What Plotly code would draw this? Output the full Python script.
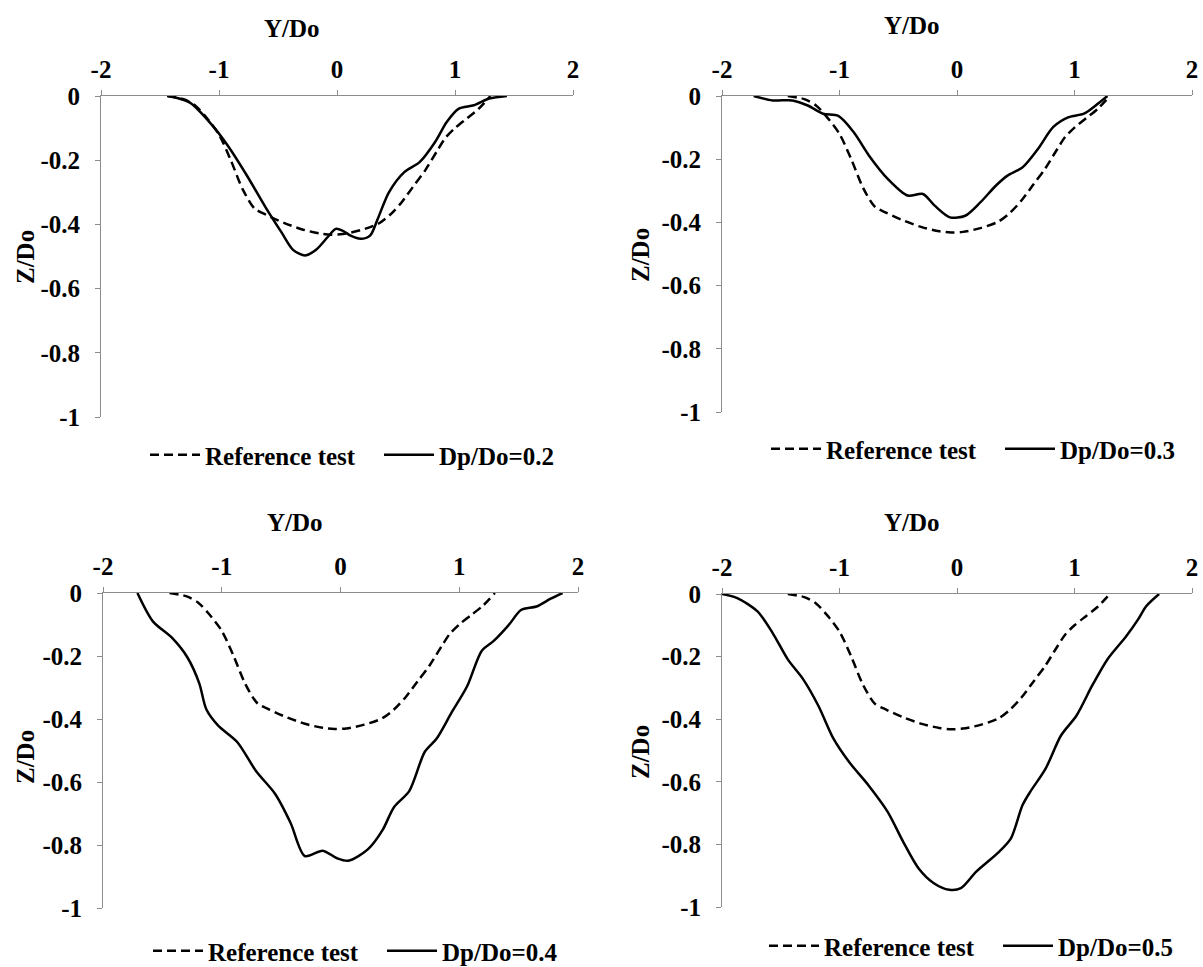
import plotly.graph_objects as go

# ---------------- data ----------------
ref_y = [-1.44, -1.3, -1.2, -1.1, -1.0, -0.9, -0.8, -0.7, -0.6, -0.45, -0.3, -0.15, -0.05,
         0.05, 0.2, 0.35, 0.45, 0.55, 0.65, 0.75, 0.85, 0.92, 1.0, 1.1, 1.2, 1.3]
ref_z = [0, -0.01, -0.03, -0.07, -0.12, -0.2, -0.29, -0.35, -0.37, -0.395, -0.415, -0.428, -0.432,
         -0.43, -0.418, -0.398, -0.37, -0.33, -0.28, -0.23, -0.17, -0.13, -0.1, -0.07, -0.04, 0]

d02_y = [-1.43, -1.25, -1.06, -0.925, -0.76, -0.6, -0.47, -0.37, -0.27, -0.18, -0.08, -0.01, 0.05,
         0.12, 0.2, 0.28, 0.345, 0.44, 0.57, 0.7, 0.83, 0.93, 1.03, 1.16, 1.29, 1.44]
d02_z = [0, -0.02, -0.09, -0.155, -0.25, -0.35, -0.425, -0.48, -0.497, -0.48, -0.44, -0.414, -0.42,
         -0.436, -0.445, -0.435, -0.383, -0.3, -0.237, -0.206, -0.144, -0.081, -0.04, -0.029, -0.008, 0]

d03_y = [-1.73, -1.57, -1.4, -1.27, -1.14, -1.01, -0.88, -0.75, -0.59, -0.42, -0.29, -0.19, -0.06,
         0.07, 0.2, 0.33, 0.43, 0.56, 0.69, 0.82, 0.95, 1.08, 1.18, 1.28]
d03_z = [0, -0.014, -0.014, -0.03, -0.056, -0.063, -0.114, -0.188, -0.262, -0.315, -0.31, -0.347, -0.384,
         -0.379, -0.336, -0.284, -0.252, -0.225, -0.167, -0.098, -0.067, -0.056, -0.03, 0]

d04_y = [-1.71, -1.58, -1.42, -1.29, -1.19, -1.13, -1.03, -0.87, -0.71, -0.55, -0.42, -0.3, -0.15,
         -0.03, 0.065, 0.23, 0.355, 0.45, 0.58, 0.71, 0.81, 0.935, 1.065, 1.19, 1.29, 1.42, 1.52,
         1.65, 1.77, 1.87]
d04_z = [0, -0.09, -0.142, -0.204, -0.286, -0.369, -0.421, -0.473, -0.566, -0.638, -0.73, -0.835, -0.818,
         -0.842, -0.85, -0.814, -0.752, -0.68, -0.628, -0.504, -0.462, -0.38, -0.297, -0.183, -0.152, -0.1,
         -0.054, -0.043, -0.018, 0]

d05_y = [-2.0, -1.87, -1.7, -1.57, -1.44, -1.31, -1.18, -1.05, -0.918, -0.754, -0.59, -0.459, -0.328,
         -0.197, -0.066, 0.033, 0.164, 0.36, 0.459, 0.557, 0.623, 0.754, 0.885, 1.016, 1.15, 1.28,
         1.44, 1.54, 1.61, 1.72]
d05_z = [0, -0.013, -0.055, -0.124, -0.209, -0.272, -0.357, -0.463, -0.537, -0.611, -0.696, -0.791, -0.876,
         -0.924, -0.945, -0.94, -0.887, -0.823, -0.781, -0.675, -0.632, -0.558, -0.452, -0.389, -0.293,
         -0.209, -0.135, -0.082, -0.039, 0]

series_names = ["Dp/Do=0.2", "Dp/Do=0.3", "Dp/Do=0.4", "Dp/Do=0.5"]
series_y = [d02_y, d03_y, d04_y, d05_y]
series_z = [d02_z, d03_z, d04_z, d05_z]
ref_name = "Reference test"

x_tickvals = [-2, -1, 0, 1, 2]
x_ticktext = ["-2", "-1", "0", "1", "2"]
y_tickvals = [0, -0.2, -0.4, -0.6, -0.8, -1]
y_ticktext = ["0", "-0.2", "-0.4", "-0.6", "-0.8", "-1"]

# ---------------- layout geometry (pixels) ----------------
W, H = 1203, 967
panels = [
    dict(x0=101, x1=573, y0=96, y1=417, ytitle=(25, 257), xtitle_y=28, leg=(145, 455)),
    dict(x0=722, x1=1192, y0=96, y1=412, ytitle=(640, 255), xtitle_y=25, leg=(766, 449)),
    dict(x0=103, x1=578, y0=593, y1=908, ytitle=(25, 757), xtitle_y=522, leg=(148, 951)),
    dict(x0=722, x1=1192, y0=594, y1=907, ytitle=(640, 752), xtitle_y=522, leg=(764, 946)),
]

FONT = "Liberation Serif"
FS = 25
axis_color = "#8c8c8c"
tfont = dict(family=FONT, size=FS, color="black", weight="bold")

fig = go.Figure()
layout = dict(
    width=W, height=H, margin=dict(l=0, r=0, t=0, b=0, autoexpand=False),
    paper_bgcolor="white", plot_bgcolor="white",
    font=tfont,
    annotations=[],
)

for i, p in enumerate(panels):
    n = "" if i == 0 else str(i + 1)
    xa, ya = "x" + n, "y" + n
    leg = "legend" + n
    fig.add_trace(go.Scatter(x=ref_y, y=ref_z, mode="lines", name=ref_name,
                             line=dict(color="black", width=2.5, dash="9px,5px", shape="spline", smoothing=0.8),
                             xaxis=xa, yaxis=ya, legend=leg))
    fig.add_trace(go.Scatter(x=series_y[i], y=series_z[i], mode="lines", name=series_names[i],
                             line=dict(color="black", width=2.5, shape="spline", smoothing=0.8),
                             xaxis=xa, yaxis=ya, legend=leg))
    layout["xaxis" + n] = dict(
        domain=[p["x0"] / W, p["x1"] / W], anchor=ya, side="top", range=[-2, 2],
        tickvals=x_tickvals, ticktext=x_ticktext, showgrid=False, zeroline=False,
        showline=True, linecolor=axis_color, linewidth=1, ticks="outside", ticklen=5,
        tickcolor=axis_color, ticklabelstandoff=2, tickfont=tfont,
    )
    layout["yaxis" + n] = dict(
        domain=[1 - p["y1"] / H, 1 - p["y0"] / H], anchor=xa, range=[-1, 0],
        tickvals=y_tickvals, ticktext=y_ticktext, showgrid=False, zeroline=False,
        showline=True, linecolor=axis_color, linewidth=1, ticks="outside", ticklen=5,
        tickcolor=axis_color, ticklabelstandoff=10, tickfont=tfont,
    )
    layout[leg] = dict(
        orientation="h", x=p["leg"][0] / W, y=1 - p["leg"][1] / H, xanchor="left", yanchor="middle",
        xref="paper", yref="paper", bgcolor="rgba(0,0,0,0)", entrywidth=169, entrywidthmode="pixels",
        font=tfont, itemwidth=50,
    )
    # axis titles
    layout["annotations"].append(dict(
        text="Y/Do", xref=xa, x=-0.38, yref="paper", y=1 - p["xtitle_y"] / H,
        showarrow=False, xanchor="center", yanchor="middle", font=tfont))
    layout["annotations"].append(dict(
        text="Z/Do", xref="paper", x=p["ytitle"][0] / W, yref="paper", y=1 - p["ytitle"][1] / H,
        showarrow=False, xanchor="center", yanchor="middle", textangle=-90, font=tfont))

fig.update_layout(**layout)
fig.write_html("out.html")
